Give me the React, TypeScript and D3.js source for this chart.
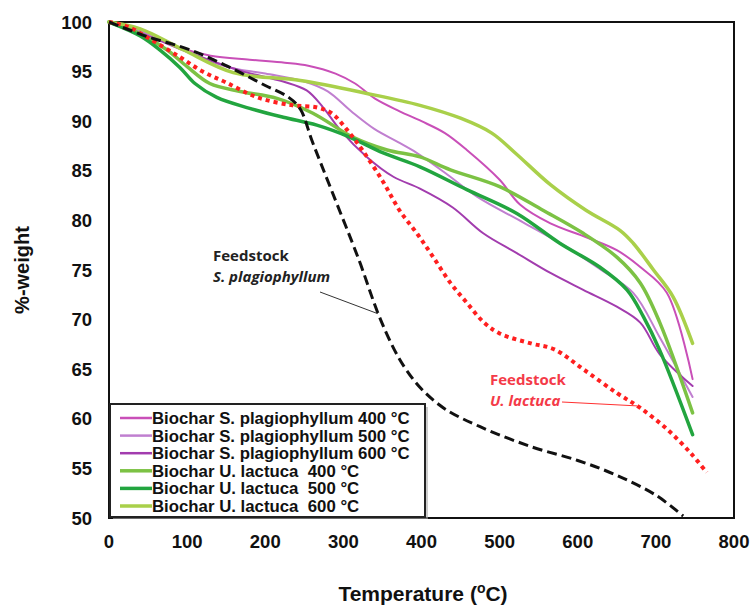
import React, { useEffect, useRef } from 'react';
import * as d3 from 'd3';

// TGA curves, values
const xTicks = [0, 100, 200, 300, 400, 500, 600, 700, 800];
const yTicks = [50, 55, 60, 65, 70, 75, 80, 85, 90, 95, 100];

const feedstockS = [[0,100],[50,98.5],[100,97.3],[150,95.6],[200,93.6],[230,92.4],[245,91.2],[260,88],[285,83],[320,76],[345,70.5],[365,67],[380,65],[400,63],[430,61],[475,59.2],[540,57.2],[600,55.8],[650,54.3],[700,52.3],[735,50.2]];
const feedstockU = [[0,100],[25,99.5],[50,98.4],[90,96.5],[120,95],[150,93.9],[190,92.4],[235,91.6],[265,91.4],[285,90.8],[305,89.1],[325,87],[350,84],[372,81],[395,78.6],[415,76.3],[437,73.7],[458,71.7],[480,69.7],[500,68.6],[540,67.6],[570,67],[607,65],[650,62.6],[680,61.1],[715,58.9],[745,56.5],[765,54.6]];

const s400 = [[0,100],[50,98.8],[87,97.5],[130,96.6],[180,96.2],[225,95.9],[255,95.6],[290,94.8],[315,93.8],[340,92.3],[372,91],[400,90],[430,88.8],[458,87.1],[500,84.1],[526,81.6],[565,79.7],[611,78.3],[650,77],[680,75.3],[714,72.7],[747,64]];
const s500 = [[0,100],[60,98.5],[100,97],[150,95.5],[200,94.8],[250,94],[280,93],[310,91],[340,89.2],[370,87.9],[390,87],[430,84.8],[471,82.4],[530,79.8],[586,77.3],[630,75],[671,72.7],[705,68.2],[747,62.2]];
const s600 = [[0,100],[50,98.6],[100,97],[168,95.1],[223,94],[253,93.1],[274,91.4],[296,89.1],[330,86.4],[364,84.4],[398,83.2],[440,81.3],[479,78.7],[522,76.7],[565,74.7],[607,73],[650,71.3],[680,69.7],[705,66.5],[747,63.3]];
const u400 = [[0,100],[40,98.8],[74,97.2],[100,95.5],[129,93.8],[168,93],[215,92.3],[261,90.8],[312,88.4],[356,87.1],[398,86.4],[437,85.1],[500,83.4],[556,81],[607,78.7],[650,76.3],[680,73.7],[705,69.7],[747,60.6]];
const u500 = [[0,100],[40,98.6],[65,97.2],[91,95.4],[110,93.8],[138,92.4],[180,91.3],[223,90.4],[266,89.6],[308,88.4],[351,86.8],[398,85.4],[458,83.1],[522,80.7],[577,77.7],[628,75.3],[663,73],[684,70.3],[705,66.9],[747,58.4]];
const u600 = [[0,100],[40,99.3],[95,97.2],[159,94.9],[245,94.1],[330,92.8],[398,91.6],[450,90.3],[490,88.8],[520,86.8],[565,83.6],[611,81],[654,79],[671,77.7],[697,75],[722,72.3],[747,67.6]];

const biochar = [
  { name: 'Biochar S. plagiophyllum 400 °C', color: '#c94fb8', width: 2, data: s400 },
  { name: 'Biochar S. plagiophyllum 500 °C', color: '#c07fd0', width: 2, data: s500 },
  { name: 'Biochar S. plagiophyllum 600 °C', color: '#a23cae', width: 2, data: s600 },
  { name: 'Biochar U. lactuca  400 °C', color: '#7cc244', width: 3.5, data: u400 },
  { name: 'Biochar U. lactuca  500 °C', color: '#22a53f', width: 3.5, data: u500 },
  { name: 'Biochar U. lactuca  600 °C', color: '#a9d04a', width: 3.5, data: u600 },
];

const W = 751, H = 609;
const margin = { top: 22, right: 17, bottom: 91, left: 109 };

export default function App() {
  const ref = useRef<SVGSVGElement>(null);

  useEffect(() => {
    const svg = d3.select(ref.current);
    svg.selectAll('*').remove();

    const x = d3.scaleLinear().domain([0, 800]).range([margin.left, W - margin.right]);
    const y = d3.scaleLinear().domain([50, 100]).range([H - margin.bottom, margin.top]);
    const font = '"Liberation Sans", Arial, sans-serif';

    const line = d3.line<number[]>()
      .x(d => x(d[0]))
      .y(d => y(d[1]))
      .curve(d3.curveCatmullRom);

    // frame
    svg.append('rect')
      .attr('x', x(0)).attr('y', y(100))
      .attr('width', x(800) - x(0)).attr('height', y(50) - y(100))
      .attr('fill', 'none').attr('stroke', '#111').attr('stroke-width', 2);

    // tick labels
    svg.append('g').selectAll('text').data(yTicks).join('text')
      .attr('x', x(0) - 17).attr('y', d => y(d) + 6.5)
      .attr('text-anchor', 'end')
      .attr('font-family', font).attr('font-weight', 'bold').attr('font-size', 18.5)
      .attr('fill', '#111')
      .text(d => d);

    svg.append('g').selectAll('text').data(xTicks).join('text')
      .attr('x', d => x(d)).attr('y', y(50) + 30)
      .attr('text-anchor', 'middle')
      .attr('font-family', font).attr('font-weight', 'bold').attr('font-size', 18.5)
      .attr('fill', '#111')
      .text(d => d);

    // axis titles
    svg.append('text')
      .attr('transform', `translate(29,${(y(50) + y(100)) / 2}) rotate(-90)`)
      .attr('text-anchor', 'middle')
      .attr('font-family', font).attr('font-weight', 'bold').attr('font-size', 20)
      .attr('fill', '#111')
      .text('%-weight');

    const xt = svg.append('text')
      .attr('x', 423).attr('y', 601)
      .attr('text-anchor', 'middle')
      .attr('font-family', font).attr('font-weight', 'bold').attr('font-size', 21)
      .attr('fill', '#111');
    xt.append('tspan').text('Temperature (');
    xt.append('tspan').attr('dy', -8).attr('font-size', 14).text('o');
    xt.append('tspan').attr('dy', 8).text('C)');

    const plot = svg.append('g');

    // biochar curves
    plot.selectAll('path.bio').data(biochar).join('path')
      .attr('class', 'bio')
      .attr('d', d => line(d.data))
      .attr('fill', 'none')
      .attr('stroke', d => d.color)
      .attr('stroke-width', d => d.width)
      .attr('stroke-linecap', 'round');

    // feedstock curves
    plot.append('path')
      .attr('d', line(feedstockU))
      .attr('fill', 'none').attr('stroke', '#ff1f1f')
      .attr('stroke-width', 4).attr('stroke-dasharray', '4 4');

    plot.append('path')
      .attr('d', line(feedstockS))
      .attr('fill', 'none').attr('stroke', '#111')
      .attr('stroke-width', 3).attr('stroke-dasharray', '10 5');

    // annotations
    const ann = svg.append('g').attr('font-family', '"Open Sans", sans-serif').attr('font-weight', 'bold').attr('font-size', 15);
    ann.append('line')
      .attr('x1', 320).attr('y1', 292).attr('x2', x(344)).attr('y2', y(70.6))
      .attr('stroke', '#333').attr('stroke-width', 1);
    ann.append('text').attr('x', 213).attr('y', 261).attr('fill', '#222').text('Feedstock');
    ann.append('text').attr('x', 213).attr('y', 282).attr('fill', '#222').attr('font-style', 'italic').text('S. plagiophyllum');

    ann.append('line')
      .attr('x1', 562).attr('y1', 402).attr('x2', x(676)).attr('y2', y(61.3))
      .attr('stroke', '#ff3030').attr('stroke-width', 1);
    ann.append('text').attr('x', 490).attr('y', 385).attr('fill', '#f43a48').text('Feedstock');
    ann.append('text').attr('x', 490).attr('y', 406).attr('fill', '#f43a48').attr('font-style', 'italic').text('U. lactuca');

    // legend
    const lg = svg.append('g');
    lg.append('rect')
      .attr('x', 113).attr('y', 407).attr('width', 315).attr('height', 112)
      .attr('fill', '#aaa').attr('opacity', 0.6);
    lg.append('rect')
      .attr('x', 110).attr('y', 404).attr('width', 315).attr('height', 113)
      .attr('fill', '#fff').attr('stroke', '#222').attr('stroke-width', 2);
    const rows = lg.selectAll('g.row').data(biochar).join('g')
      .attr('class', 'row')
      .attr('transform', (d, i) => `translate(120,${418 + i * 17.6})`);
    rows.append('line')
      .attr('x1', 0).attr('x2', 32).attr('y1', 0).attr('y2', 0)
      .attr('stroke', d => d.color).attr('stroke-width', d => (d.width > 3 ? 3.5 : 2.5));
    rows.append('text')
      .attr('x', 32).attr('y', 6)
      .attr('font-family', font).attr('font-weight', 'bold').attr('font-size', 16.8)
      .attr('fill', '#111')
      .attr('xml:space', 'preserve')
      .style('white-space', 'pre')
      .text(d => d.name);
  }, []);

  return (
    <svg ref={ref} width={W} height={H}
      style={{ position: 'absolute', left: 0, top: 0, background: '#fff' }} />
  );
}
